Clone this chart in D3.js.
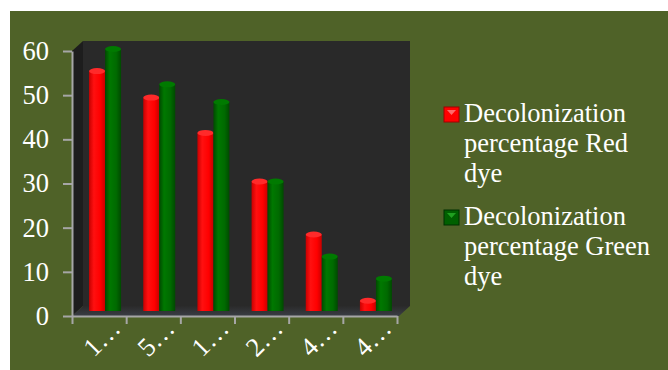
<!DOCTYPE html>
<html>
<head>
<meta charset="utf-8">
<script src="https://cdn.jsdelivr.net/npm/d3@7/dist/d3.min.js"></script>
<style>
  html, body { margin: 0; padding: 0; background: #ffffff; }
  svg { display: block; }
</style>
</head>
<body>
<script>
// Chart data
const categories = ["1\u2026", "5\u2026", "1\u2026", "2\u2026", "4\u2026", "4\u2026"];
const seriesNames = ["Decolonization percentage Red dye", "Decolonization percentage Green dye"];
const redValues = [55, 49, 41, 30, 18, 3];
const greenValues = [60, 52, 48, 30, 13, 8];
const yTicks = [0, 10, 20, 30, 40, 50, 60];

const W = 668, H = 370;
const FONT = "Liberation Serif";
const FONT_SIZE = 26.5;

function serif(sel) {
  return sel.attr("font-family", FONT).style("font-family", FONT)
    .attr("font-size", FONT_SIZE).style("font-size", FONT_SIZE + "px")
    .attr("fill", "#ffffff");
}

const svg = d3.select("body").append("svg")
  .attr("width", W).attr("height", H);

// olive chart area
svg.append("rect").attr("x", 10).attr("y", 11).attr("width", W - 10).attr("height", H - 11)
  .attr("fill", "#4f6228");

const defs = svg.append("defs");
function cylGrad(id, edge, mid, hi) {
  const g = defs.append("linearGradient").attr("id", id)
    .attr("x1", 0).attr("x2", 1).attr("y1", 0).attr("y2", 0);
  g.append("stop").attr("offset", "0%").attr("stop-color", edge);
  g.append("stop").attr("offset", "30%").attr("stop-color", hi);
  g.append("stop").attr("offset", "70%").attr("stop-color", mid);
  g.append("stop").attr("offset", "100%").attr("stop-color", edge);
}
cylGrad("gRed", "#c80000", "#ff0000", "#ff1010");
cylGrad("gGreen", "#004a00", "#006a00", "#007800");

const floorGrad = defs.append("linearGradient").attr("id", "gFloor")
  .attr("x1", 0).attr("x2", 0).attr("y1", 0).attr("y2", 1);
floorGrad.append("stop").attr("offset", "0%").attr("stop-color", "#2a2a2a");
floorGrad.append("stop").attr("offset", "100%").attr("stop-color", "#3a3d44");

// scales
const x0 = 72, x1 = 397;
const depthX = 11, depthY = 10;
const y = d3.scaleLinear().domain([0, 60]).range([316, 51]);
const xb = d3.scaleBand().domain(d3.range(categories.length)).range([x0, x1]);
const xs = d3.scaleBand().domain([0, 1]).range([0, 32]);

const yTop = y(60) - depthY, yBase = y(0);

// 3D walls
svg.append("polygon")  // back wall
  .attr("points", [[x0 + depthX, yTop], [x1 + depthX + 2, yTop], [x1 + depthX + 2, yBase - depthY], [x0 + depthX, yBase - depthY]].join(" "))
  .attr("fill", "#292929");
svg.append("polygon")  // side wall
  .attr("points", [[x0, y(60)], [x0 + depthX, yTop], [x0 + depthX, yBase - depthY], [x0, yBase]].join(" "))
  .attr("fill", "#1d1d1d");
svg.append("polygon")  // floor
  .attr("points", [[x0, yBase], [x0 + depthX, yBase - depthY], [x1 + depthX + 2, yBase - depthY], [x1 + 2, yBase]].join(" "))
  .attr("fill", "url(#gFloor)");

// bars (cylinders)
const series = [
  { name: seriesNames[0], values: redValues, fill: "url(#gRed)", top: "#ff2a2a" },
  { name: seriesNames[1], values: greenValues, fill: "url(#gGreen)", top: "#007a00" }
];
const shiftX = 6, shiftY = 5, ry = 3;
series.forEach((s, si) => {
  const g = svg.append("g");
  s.values.forEach((v, i) => {
    const cx = xb(i) + xb.bandwidth() / 2 - 16 + shiftX + xs(si);
    const w = xs.bandwidth();
    const top = y(v) - shiftY;
    const base = y(0) - shiftY;
    g.append("rect").attr("x", cx).attr("y", top + ry).attr("width", w).attr("height", base - top - ry)
      .attr("fill", s.fill);
    g.append("ellipse").attr("cx", cx + w / 2).attr("cy", top + ry).attr("rx", w / 2).attr("ry", ry)
      .attr("fill", s.top);
  });
});

// y axis
const yAxis = svg.append("g").attr("transform", `translate(${x0},0)`)
  .call(d3.axisLeft(y).tickValues(yTicks).tickSize(9).tickPadding(14).tickSizeOuter(0));
yAxis.attr("font-family", FONT);
yAxis.select(".domain").attr("stroke", "#a6a6a6").attr("stroke-width", 2);
yAxis.selectAll(".tick line").attr("stroke", "#a6a6a6").attr("stroke-width", 2);
serif(yAxis.selectAll(".tick text"));

// x axis: ticks at category boundaries
const xl = d3.scaleLinear().domain([0, categories.length]).range([x0, x1]);
const xAxis = svg.append("g").attr("transform", `translate(0,${y(0)})`)
  .call(d3.axisBottom(xl).ticks(categories.length).tickSize(8).tickFormat("").tickSizeOuter(0));
xAxis.select(".domain").attr("stroke", "#a6a6a6").attr("stroke-width", 2);
xAxis.selectAll(".tick line").attr("stroke", "#a6a6a6").attr("stroke-width", 2);

serif(svg.append("g").selectAll("text").data(categories).join("text")
  .attr("transform", (d, i) => `translate(${xb(i) + xb.bandwidth() / 2 + 23},330) rotate(-45)`)
  .attr("text-anchor", "end"))
  .text(d => d);

// legend
const legendLines = [
  ["Decolonization", "percentage Red", "dye"],
  ["Decolonization", "percentage Green", "dye"]
];
const legendTop = [107, 210];
const markerCols = [["#ff0000", "#ff6a6a", "#a00000"], ["#006000", "#20a020", "#003000"]];
legendLines.forEach((lines, li) => {
  const g = svg.append("g").attr("transform", `translate(444,${legendTop[li]})`);
  g.append("rect").attr("width", 15).attr("height", 15).attr("fill", markerCols[li][0])
    .attr("stroke", markerCols[li][2]).attr("stroke-width", 1);
  g.append("polygon").attr("points", "3,3 12,3 7.5,8").attr("fill", markerCols[li][1]);
  serif(g.selectAll("text").data(lines).join("text")
    .attr("x", 20).attr("y", (d, k) => 15 + k * 30))
    .text(d => d);
});
</script>
</body>
</html>
